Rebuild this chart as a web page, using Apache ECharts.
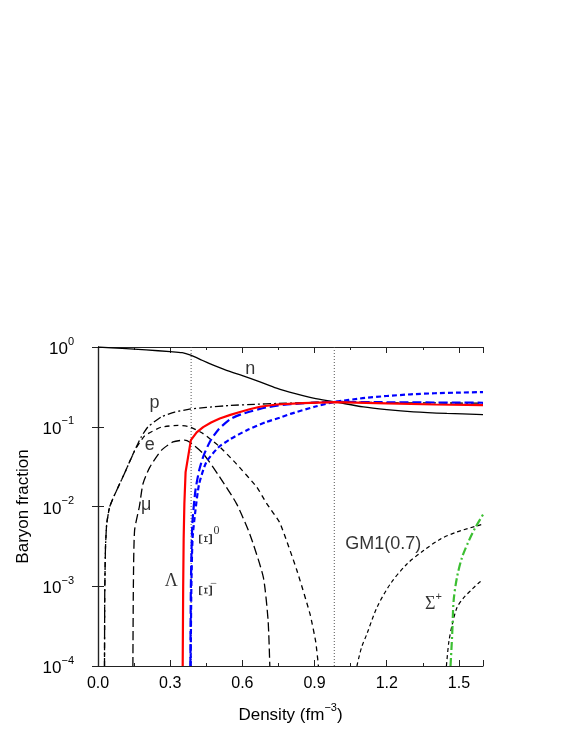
<!DOCTYPE html>
<html><head><meta charset="utf-8">
<script src="https://cdn.jsdelivr.net/npm/echarts@6/dist/echarts.min.js"></script>
<style>html,body{margin:0;padding:0;background:#fff}#c{width:581px;height:752px}</style>
</head><body><div id="c"></div>
<script>
// ---- data (density fm^-3, baryon fraction) ----
const neutron = [[0,1.0],[0.1,0.96],[0.2,0.918],[0.3,0.875],[0.35,0.848],[0.385,0.79],[0.42,0.71],[0.464,0.62],[0.534,0.51],[0.603,0.435],[0.673,0.366],[0.742,0.305],[0.82,0.26],[0.895,0.228],[0.985,0.205],[1.103,0.177],[1.2,0.164],[1.311,0.154],[1.45,0.147],[1.6,0.142]];
const proton = [[0.027,1e-4],[0.028,0.0008],[0.031,0.003],[0.036,0.006],[0.048,0.0098],[0.069,0.014],[0.11,0.026],[0.152,0.05],[0.18,0.075],[0.208,0.1],[0.263,0.133],[0.319,0.153],[0.38,0.166],[0.45,0.175],[0.55,0.185],[0.65,0.191],[0.745,0.196],[0.85,0.2],[0.985,0.205],[1.2,0.2],[1.6,0.198]];
const electron = [[0.027,1e-4],[0.028,0.0008],[0.031,0.003],[0.036,0.006],[0.048,0.0098],[0.069,0.014],[0.11,0.026],[0.152,0.05],[0.194,0.077],[0.263,0.099],[0.333,0.104],[0.38,0.1],[0.437,0.082],[0.506,0.056],[0.576,0.034],[0.66,0.0175],[0.7,0.011],[0.756,0.0062],[0.826,0.0016],[0.881,4.5e-4],[0.905,2e-4],[0.916,1e-4]];
const muon = [[0.145,1e-4],[0.147,0.001],[0.152,0.005],[0.172,0.01],[0.187,0.0193],[0.215,0.031],[0.263,0.0506],[0.312,0.0645],[0.36,0.068],[0.38,0.0645],[0.437,0.046],[0.506,0.0234],[0.576,0.0108],[0.631,0.0045],[0.687,0.0013],[0.707,3.7e-4],[0.714,1e-4]];
const lambda = [[0.352,1e-4],[0.354,0.001],[0.356,0.004],[0.359,0.011],[0.364,0.027],[0.386,0.068],[0.41,0.085],[0.437,0.099],[0.47,0.113],[0.506,0.127],[0.55,0.141],[0.59,0.153],[0.63,0.166],[0.673,0.178],[0.742,0.19],[0.85,0.198],[0.985,0.204],[1.2,0.196],[1.4,0.19],[1.6,0.187]];
const xiMinus = [[0.384,1e-4],[0.386,0.001],[0.392,0.006],[0.405,0.016],[0.42,0.028],[0.437,0.042],[0.465,0.065],[0.5,0.092],[0.55,0.125],[0.6,0.145],[0.7,0.175],[0.8,0.192],[0.985,0.205],[1.2,0.203],[1.6,0.2]];
const xiZero = [[0.385,1e-4],[0.388,0.001],[0.393,0.004],[0.405,0.009],[0.42,0.019],[0.45,0.036],[0.5,0.055],[0.55,0.07],[0.617,0.09],[0.7,0.115],[0.756,0.13],[0.8,0.145],[0.9,0.178],[0.985,0.205],[1.1,0.228],[1.2,0.243],[1.3,0.255],[1.4,0.263],[1.5,0.268],[1.6,0.272]];
const gmA = [[1.076,1e-4],[1.095,1.7e-4],[1.117,2.5e-4],[1.159,5.4e-4],[1.215,1.07e-3],[1.284,1.9e-3],[1.353,2.8e-3],[1.423,3.9e-3],[1.492,4.8e-3],[1.6,6e-3]];
const gmB = [[1.448,1e-4],[1.458,2e-4],[1.472,3.3e-4],[1.492,5.4e-4],[1.52,7.2e-4],[1.555,9.2e-4],[1.582,1.1e-3],[1.6,1.2e-3]];
const sigmaPlus = [[1.465,1e-4],[1.472,2.5e-4],[1.478,6.6e-4],[1.492,1.3e-3],[1.513,2.3e-3],[1.541,3.7e-3],[1.569,5.5e-3],[1.6,7.9e-3]];
const thresholds = [0.387, 0.982];
const xTickStep = 0.3;
const yMin = 1e-4, yMax = 1;
// annotation texts and their anchor points in data space
const annTexts = ['n','p','e','μ','Λ','Ξ','0','Ξ','−','GM1(0.7)','Σ','+'];
const annPoints = [[0.633,0.53],[0.235,0.2],[0.215,0.0585],[0.2,0.0105],[0.305,0.00117],[0.455,0.0039],[0.4925,0.005],[0.451,0.00088],[0.481,0.00107],[1.185,0.00343],[1.381,0.0006],[1.416,0.00073]];

const SANS = 'Liberation Sans, Arial, sans-serif';
const SERIF = 'Liberation Serif, Times New Roman, serif';
const annStyles = [
  {fontFamily:SANS,fontSize:18},{fontFamily:SANS,fontSize:18},{fontFamily:SANS,fontSize:18},{fontFamily:SANS,fontSize:18},
  {fontFamily:SERIF,fontSize:18},
  {fontFamily:SERIF,fontSize:19,rotate:90},{fontFamily:SERIF,fontSize:12},
  {fontFamily:SERIF,fontSize:19,rotate:90},{fontFamily:SERIF,fontSize:12},
  {fontFamily:SANS,fontSize:18},
  {fontFamily:SERIF,fontSize:18},{fontFamily:SANS,fontSize:11}
];

function curve(data, color, width, dash, z, smooth) {
  return {type:'line', data, symbol:'none', showSymbol:false, smooth:(smooth===undefined?0.3:smooth), clip:true, z:z||2,
    lineStyle:{color, width, type:dash}, emphasis:{disabled:true}, silent:true};
}
const series = [
  curve(neutron,'#000',1.3,'solid',2,0.3),
  curve(proton,'#000',1.3,[8,3,2,3],2,0.15),
  curve(electron,'#000',1.3,[5,4],2,0.15),
  curve(muon,'#000',1.3,[9,4],2,0.2),
  curve(gmA,'#000',1.2,[4,3],2,0.3),
  curve(gmB,'#000',1.2,[4,3],2,0.3),
  curve(xiZero,'#0000ff',2.2,[5,3],3,0.2),
  curve(xiMinus,'#0000ff',2.2,[9,4],3,0.2),
  curve(lambda,'#ff0000',2.2,'solid',4,false),
  curve(sigmaPlus,'#3cbf32',2.2,[8,3,2,3],3,0.3)
];
thresholds.forEach(t => series.push({type:'line', data:[[t,yMin],[t,yMax]], symbol:'none', silent:true,
  lineStyle:{color:'#555', width:1, type:[1,2]}, z:1}));
series.push({type:'scatter', symbolSize:0, silent:true, z:10,
  data: annPoints.map((p,i) => ({value:p, label:Object.assign({show:true, position:'inside', color:'#000', formatter:annTexts[i]}, annStyles[i])}))});

const chart = echarts.init(document.getElementById('c'), null, {renderer:'canvas'});
const axisLineStyle = {lineStyle:{color:'#222', width:1.2}};
chart.setOption({
  animation:false,
  backgroundColor:'#fff',
  grid:{left:98, right:98, top:347, bottom:86},
  xAxis:[
    {type:'value', min:0, max:1.6, interval:xTickStep, position:'bottom',
     axisLine:axisLineStyle, axisTick:{inside:true, length:6, lineStyle:{color:'#222'}},
     minorTick:{show:true, splitNumber:2, length:3, lineStyle:{color:'#222'}},
     splitLine:{show:false},
     axisLabel:{margin:10, fontSize:16, fontFamily:SANS, color:'#000', showMaxLabel:false, formatter:v=>v.toFixed(1)},
     name:'{a|Density (fm}{s|−3}{a|)}', nameLocation:'middle', nameGap:36,
     nameTextStyle:{color:'#000', rich:{a:{fontSize:17, fontFamily:SANS, lineHeight:22, verticalAlign:'bottom'}, s:{fontSize:11, fontFamily:SANS, lineHeight:12, verticalAlign:'top'}}}},
    {type:'value', min:0, max:1.6, interval:xTickStep, position:'top',
     axisLine:axisLineStyle, axisTick:{inside:true, length:6, lineStyle:{color:'#222'}},
     minorTick:{show:true, splitNumber:2, length:3, lineStyle:{color:'#222'}},
     splitLine:{show:false}, axisLabel:{show:false}}
  ],
  yAxis:[
    {type:'log', logBase:10, min:yMin, max:yMax, position:'left',
     axisLine:axisLineStyle, axisTick:{inside:true, length:6, lineStyle:{color:'#222'}},
     splitLine:{show:false},
     axisLabel:{margin:24, color:'#000', formatter:v=>{const e=Math.round(Math.log10(v)); return '{b|10}{s|'+(e<0?'−'+(-e):e)+'}';},
       rich:{b:{fontSize:17, fontFamily:SANS, lineHeight:22, verticalAlign:'bottom'}, s:{fontSize:11, fontFamily:SANS, lineHeight:12, verticalAlign:'top'}}},
     name:'Baryon fraction', nameLocation:'middle', nameGap:56,
     nameTextStyle:{fontSize:17, fontFamily:SANS, color:'#000'}},
    {type:'log', logBase:10, min:yMin, max:yMax, position:'right',
     axisLine:axisLineStyle, axisTick:{inside:true, length:6, lineStyle:{color:'#222'}},
     splitLine:{show:false}, axisLabel:{show:false}}
  ],
  series
});
</script></body></html>
